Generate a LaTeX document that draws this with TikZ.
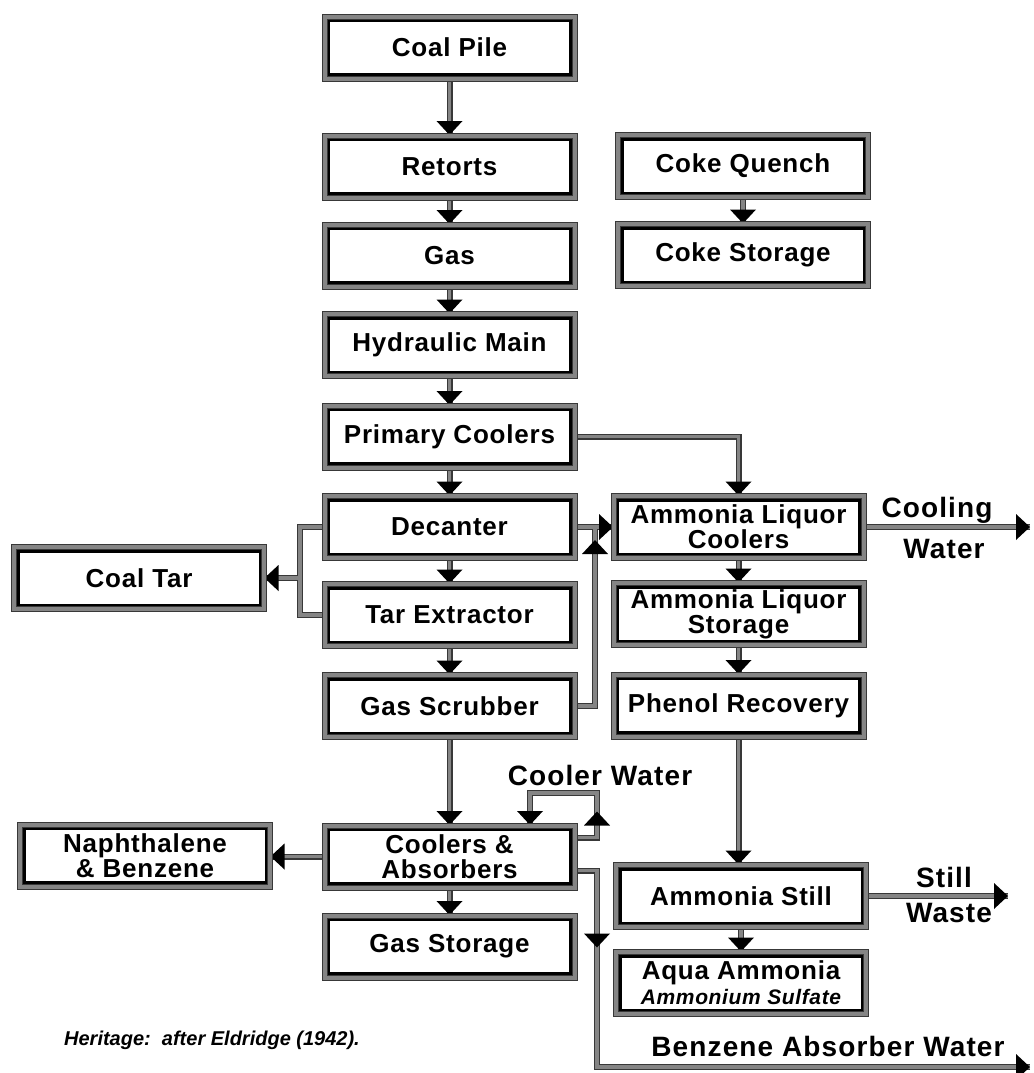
\documentclass[tikz,border=0pt]{standalone}
\usepackage{fontspec}
\setmainfont{Liberation Sans}
\usetikzlibrary{%
	calc,%
	decorations.markings
}
\definecolor{pipegray}{rgb}{0.52,0.52,0.52}
\definecolor{edgegray}{rgb}{0.22,0.22,0.22}

\pgfdeclarelayer{edges}
\pgfdeclarelayer{cores}
\pgfsetlayers{edges,cores,main}

\newcommand{\boxfont}{\fontsize{13}{12.5}\selectfont\bfseries\addfontfeature{LetterSpace=3}}
\newcommand{\streamfont}{\fontsize{14}{14}\selectfont\bfseries\addfontfeature{LetterSpace=4}}
\newcommand{\tiphead}{\fill[black] (0,0) -- (-7pt,6.5pt) -- (-7pt,-6.5pt) -- cycle;}

\tikzset{
	unit/.style={draw=edgegray, line width=0.5pt, double=pipegray, double distance=2pt,
		fill=white, minimum width=125pt, minimum height=31pt, inner sep=2pt,
		align=center, font=\boxfont,
		path picture={\draw[black,line width=5.5pt] (path picture bounding box.south west)
			rectangle (path picture bounding box.north east);}},
	streamtext/.style={font=\streamfont, inner sep=0pt},
	pipeedge/.style={draw=edgegray, line width=3pt},
	pipecore/.style={draw=pipegray, line width=1.6pt},
	flowtip/.style={postaction={decorate,decoration={markings,
		mark=at position #1 with {\tiphead}}}},
	flowtip/.default=1
}

% pipe drawn twice so that joints stay open
\newcommand{\flowpipe}[2][]{%
	\begin{pgfonlayer}{edges}\path[pipeedge] #2;\end{pgfonlayer}%
	\begin{pgfonlayer}{cores}\path[pipecore,#1] #2;\end{pgfonlayer}}

\begin{document}
\begin{tikzpicture}[x=0.5pt,y=-0.5pt]
	\useasboundingbox (0,0) rectangle (1034,1073);
	
	% Gas line
	\node[unit] (pile) at (449.5,47.5) {Coal Pile};
	\node[unit] (retorts) at (449.5,166.5) {Retorts};
	\node[unit] (gas) at (449.5,255.5) {Gas};
	\node[unit] (hydmain) at (449.5,345) {Hydraulic Main};
	\node[unit] (primary) at (449.5,436.5) {Primary Coolers};
	\node[unit] (decanter) at (449.5,527) {Decanter};
	\node[unit] (tarext) at (449.5,615) {Tar Extractor};
	\node[unit] (scrubber) at (449.5,706) {Gas Scrubber};
	\node[unit] (absorb) at (449.5,856.5) {Coolers \&\\Absorbers};
	\node[unit] (storage) at (449.5,946.5) {Gas Storage};
	
	% Side products
	\node[unit] (coaltar) at (139,578) {Coal Tar};
	\node[unit] (naph) at (145,855.5) {Naphthalene\\\& Benzene};
	
	% Coke and ammonia liquor
	\node[unit] (quench) at (743,166) {Coke Quench};
	\node[unit] (cokestore) at (743,255) {Coke Storage};
	\node[unit] (alcool) at (738.5,527) {Ammonia Liquor\\Coolers};
	\node[unit] (alstore) at (738.5,614) {Ammonia Liquor\\Storage};
	\node[unit] (phenol) at (738.5,705.5) {Phenol Recovery};
	\node[unit] (still) at (741,896) {Ammonia Still};
	\node[unit] (aqua) at (741,983) {Aqua Ammonia\\{\fontsize{10.5}{11}\selectfont\itshape Ammonium Sulfate}};
	
	% Stream labels
	\node[streamtext] (coolingtxt) at (937,510) {Cooling};
	\node[streamtext] (coolwatertxt) at (944,549) {Water};
	\node[streamtext] (stilltxt) at (944,877) {Still};
	\node[streamtext] (wastetxt) at (949,913) {Waste};
	\node[streamtext] (coolertxt) at (600,775) {Cooler Water};
	\node[streamtext] (benzenetxt) at (828,1046) {Benzene Absorber Water};
	\node[font=\fontsize{10}{12}\selectfont\bfseries\itshape, inner sep=0pt] (source) at (212,1040) {Heritage:\ \ after Eldridge (1942).};
	
	% Free ends and corners
	\coordinate (tarjoin) at (300,578);
	\coordinate (scrubjoin) at (595,527);
	\coordinate (cwtop) at (597,793);
	\coordinate (cwdrop) at (530,0);
	\coordinate (bzcorner) at (597,1067);
	\coordinate (bzend) at (1030,1067);
	\coordinate (coolend) at (1030,0);
	\coordinate (wasteend) at (1008,0);
	
	% Straight runs down the columns
	\foreach \a/\b in {pile/retorts,retorts/gas,gas/hydmain,hydmain/primary,primary/decanter,
		decanter/tarext,tarext/scrubber,scrubber/absorb,absorb/storage,quench/cokestore,
		alcool/alstore,alstore/phenol,phenol/still,still/aqua}
		\flowpipe[flowtip]{(\a.south) -- (\a.south |- \b.north)};
	
	% Cross connections
	\flowpipe[flowtip]{(primary.east) -| (alcool.north)};
	\flowpipe[flowtip]{(decanter.east) -- (alcool.west)};
	\flowpipe[flowtip=93pt]{(scrubber.east) -| (scrubjoin)};
	\flowpipe{(decanter.west) -| (tarjoin) |- (tarext.west)};
	\flowpipe[flowtip]{(tarjoin) -- (coaltar.east)};
	\flowpipe[flowtip]{(absorb.west) -- (absorb.west -| naph.east)};
	\flowpipe[flowtip=24pt,flowtip]{([yshift=9.5pt]absorb.east) -| (cwtop) -| (cwdrop |- absorb.north)};
	\flowpipe[flowtip=49.5pt,flowtip]{([yshift=-7pt]absorb.east) -| (bzcorner) -- (bzend)};
	\flowpipe[flowtip]{(alcool.east) -- (alcool.east -| coolend)};
	\flowpipe[flowtip]{(still.east) -- (still.east -| wasteend)};
\end{tikzpicture}
\end{document}
